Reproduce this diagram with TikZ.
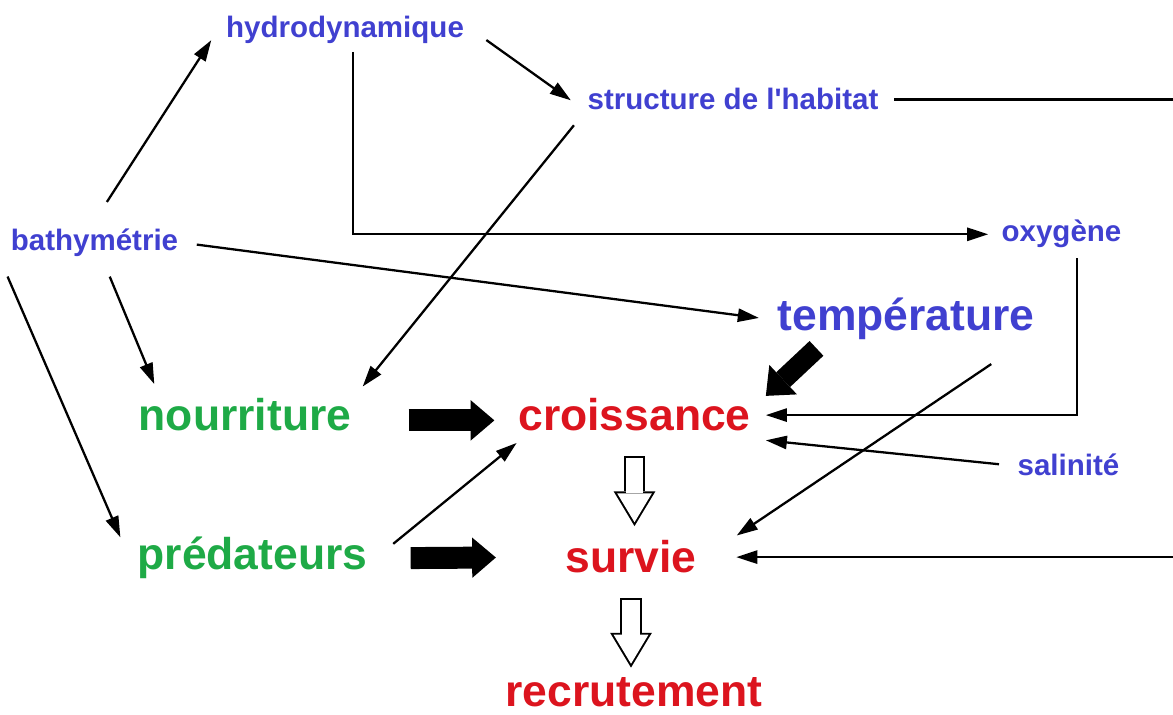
\documentclass[tikz,border=0pt]{standalone}
\usepackage{fontspec}
\setmainfont{Liberation Sans}
\usetikzlibrary{arrows.meta}

\definecolor{factorblue}{RGB}{64,64,208}
\definecolor{effectred}{RGB}{220,20,30}
\definecolor{preygreen}{RGB}{30,170,70}

\begin{document}
\begin{tikzpicture}[
    x=0.02cm,
    y=-0.02cm,
    ->,
    >={Triangle[length=12pt, width=7.5pt]},
    line width=1.3pt,
    inner sep=4pt,
    every node/.style={anchor=base},
    minor/.style={text=factorblue, font=\fontsize{16.8}{20}\selectfont\bfseries},
    major/.style={font=\fontsize{25.3}{30}\selectfont\bfseries},
    bold/.style={line width=12.5pt, -{Triangle[length=13.5pt, width=23pt, line width=0pt]}},
    hollow/.style={line width=12.5pt, shorten <=9.6pt, shorten >=3.7pt,
        -{Triangle[length=19.8pt, width=23.8pt, line width=0pt]}},
    hollowin/.style={white, line width=10.2pt, shorten <=10.7pt, shorten >=5.9pt,
        -{Triangle[length=16.5pt, width=19.8pt, line width=0pt]}},
]
    \useasboundingbox (0,0) rectangle (1173,715);

    \node[minor]                   (hydro)   at (345,37.5)   {hydrodynamique};
    \node[minor]                   (habitat) at (733,110)    {structure de l\textquotesingle habitat};
    \node[minor]                   (bath)    at (94.5,251)   {bathymétrie};
    \node[minor]                   (oxy)     at (1061.5,242) {oxygène};
    \node[minor]                   (sal)     at (1068.5,476) {salinité};
    \node[major, text=factorblue]  (temp)    at (906,331)    {température};
    \node[major, text=preygreen]   (nour)    at (245,431)    {nourriture};
    \node[major, text=preygreen]   (pred)    at (252.5,570)  {prédateurs};
    \node[major, text=effectred]   (crois)   at (634.5,431)  {croissance};
    \node[major, text=effectred]   (surv)    at (631,573)    {survie};
    \node[major, text=effectred,
          inner sep=1pt]           (recr)    at (634,706)    {recrutement};
    \coordinate (rim) at (1200,0);

    \path
        (bath.north)             edge [shorten <=13pt, shorten >=7pt]  (hydro.west)
        (hydro.east)             edge [shorten <=10pt, shorten >=6pt]  ([yshift=-4pt]habitat.west)
        (habitat.south west)     edge [shorten <=5pt,  shorten >=3pt]  (nour.north east)
        (bath.east)              edge [shorten <=6pt,  shorten >=6pt]  (temp.west)
        ([xshift=6pt]bath.south) edge [shorten <=7pt,  shorten >=4pt]  ([xshift=15pt]nour.north west)
        (bath.south west)        edge [shorten <=7pt,  shorten >=13pt] (pred.west)
        (sal.west)               edge [shorten <=6pt,  shorten >=4pt]  (crois.south east)
        (temp.-15)               edge [shorten <=16pt, shorten >=22pt] (surv.east)
        (pred.east)              edge [shorten <=13pt, shorten >=3pt]  ([xshift=6pt]crois.south west)
    ;

    \draw[shorten >=3pt] ([xshift=4.5pt]hydro.south) |- (oxy.west);
    \draw[shorten <=1pt, shorten >=4pt] ([xshift=9pt]oxy.south) |- (crois.east);
    \draw[shorten <=4.5pt, shorten >=18pt] (habitat.east) -- (habitat.east -| rim) |- (surv.east);

    % thick arrows
    \draw[bold, shorten <=28pt, shorten >=9pt] ([yshift=-3pt]nour.east) -- ([yshift=-3pt]crois.west);
    \draw[bold, shorten <=20pt, shorten >=35pt] (pred.east) -- (surv.west);
    \draw[bold, line width=11.5pt] (temp.198) -- ([xshift=4pt, yshift=-3pt]crois.north east);

    % hollow arrows
    \foreach \a/\b in {crois/surv, surv/recr} {
        \draw[hollow]   (\a.south) -- (\a.south |- \b.north);
        \draw[hollowin] (\a.south) -- (\a.south |- \b.north);
    }
\end{tikzpicture}
\end{document}
